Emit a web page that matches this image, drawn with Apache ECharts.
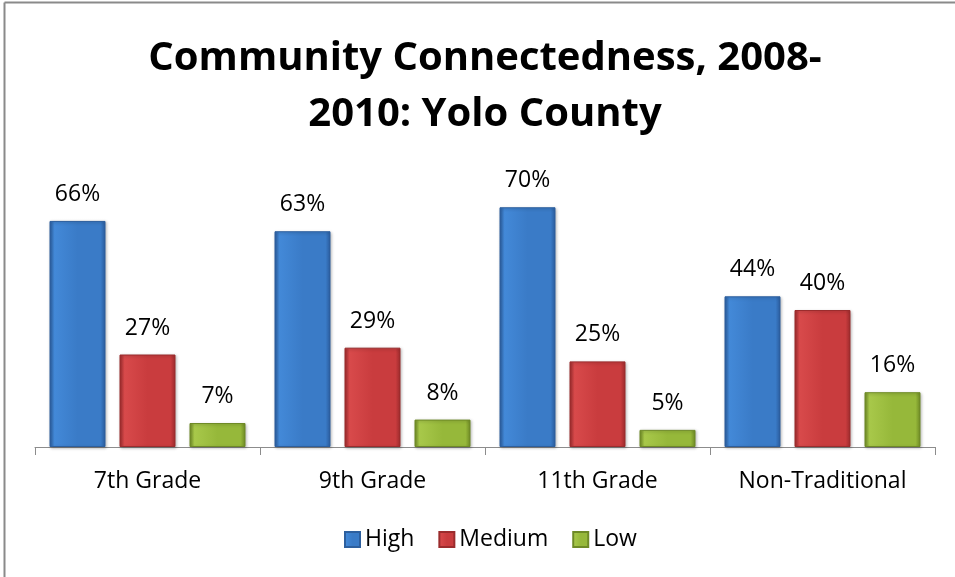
<!DOCTYPE html>
<html>
<head>
<meta charset="utf-8">
<script src="https://cdn.jsdelivr.net/npm/echarts@6/dist/echarts.min.js"></script>
<style>
  html, body { margin: 0; padding: 0; background: #fff; }
  #chart { width: 955px; height: 577px; }
</style>
</head>
<body>
<div id="chart"></div>
<script>
// Community connectedness by grade level, Yolo County 2008-2010 (percent)
const categories = ['7th Grade', '9th Grade', '11th Grade', 'Non-Traditional'];
const seriesNames = ['High', 'Medium', 'Low'];
const highValues = [66, 63, 70, 44];
const mediumValues = [27, 29, 25, 40];
const lowValues = [7, 8, 5, 16];

// bevelled bar fill: darker edges, brighter face
function bevel(edge, face, faceLight) {
  return {
    type: 'linear', x: 0, y: 0, x2: 1, y2: 0,
    colorStops: [
      { offset: 0, color: edge },
      { offset: 0.09, color: faceLight },
      { offset: 0.5, color: face },
      { offset: 0.91, color: face },
      { offset: 1, color: edge }
    ]
  };
}

const palette = {
  High: { fill: bevel('#2b5d9f', '#3a7bc7', '#4389d8'), border: '#2d5f9e' },
  Medium: { fill: bevel('#9e2b2d', '#c93c3e', '#d84a4b'), border: '#9b2c2d' },
  Low: { fill: bevel('#6f8b25', '#96b83a', '#a8c84a'), border: '#6e8a26' }
};

const valueSets = [highValues, mediumValues, lowValues];
const font = 'Open Sans';

const chart = echarts.init(document.getElementById('chart'));
chart.setOption({
  backgroundColor: '#ffffff',
  animation: false,
  title: {
    text: 'Community Connectedness, 2008-\n2010: Yolo County',
    left: 485,
    top: 31,
    padding: 0,
    textAlign: 'center',
    textStyle: {
      fontFamily: font,
      fontWeight: 'bold',
      fontSize: 40,
      lineHeight: 56,
      color: '#000'
    }
  },
  legend: {
    top: 523,
    left: 339,
    icon: 'rect',
    itemWidth: 15,
    itemHeight: 15,
    itemGap: 24,
    textStyle: { fontFamily: font, fontSize: 23, color: '#000' },
    data: seriesNames
  },
  grid: { left: 35, right: 20, top: 173, bottom: 130 },
  xAxis: {
    type: 'category',
    data: categories,
    axisLine: { lineStyle: { color: '#8c8c8c', width: 1 } },
    axisTick: { show: true, length: 8, lineStyle: { color: '#8c8c8c' } },
    axisLabel: { margin: 23, fontFamily: font, fontSize: 23, color: '#000' }
  },
  yAxis: {
    type: 'value',
    min: 0,
    max: 80,
    show: false,
    splitLine: { show: false }
  },
  graphic: [
    { type: 'line', shape: { x1: 4.5, y1: 2.5, x2: 955, y2: 2.5 }, style: { stroke: '#8a8a8a', lineWidth: 2 } },
    { type: 'line', shape: { x1: 4.5, y1: 2.5, x2: 4.5, y2: 577 }, style: { stroke: '#8a8a8a', lineWidth: 2 } }
  ],
  series: seriesNames.map((name, i) => ({
    name: name,
    type: 'bar',
    data: valueSets[i],
    barWidth: 56,
    barGap: '25%',
    itemStyle: {
      color: palette[name].fill,
      borderColor: palette[name].border,
      borderWidth: 1,
      shadowColor: 'rgba(0,0,0,0.25)',
      shadowBlur: 3,
      shadowOffsetX: 1,
      shadowOffsetY: 1
    },
    label: {
      show: true,
      position: 'top',
      distance: 15,
      formatter: '{c}%',
      fontFamily: font,
      fontSize: 23,
      color: '#000'
    }
  }))
});
</script>
</body>
</html>
